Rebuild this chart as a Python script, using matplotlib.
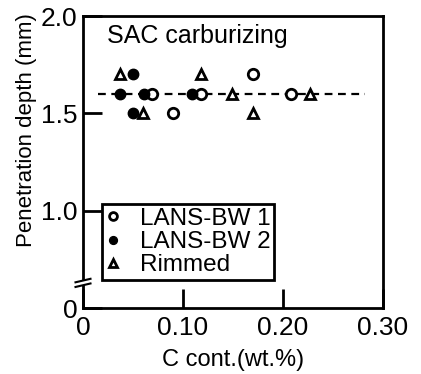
import matplotlib
matplotlib.use("Agg")
import matplotlib.pyplot as plt
from matplotlib import font_manager
from matplotlib.patches import Rectangle

def pick(fams):
    for f in fams:
        try:
            font_manager.findfont(f, fallback_to_default=False)
            return f
        except Exception:
            pass
    return "DejaVu Sans"

TXT = pick(["Liberation Sans", "DejaVu Sans"])
NUM = pick(["Liberation Sans Narrow", "Liberation Sans", "DejaVu Sans"])

# data
bw1_x = [0.069, 0.118, 0.170, 0.208, 0.090]
bw1_y = [1.6, 1.6, 1.7, 1.6, 1.5]
bw2_x = [0.037, 0.050, 0.061, 0.109, 0.050]
bw2_y = [1.6, 1.7, 1.6, 1.6, 1.5]
rim_x = [0.037, 0.118, 0.149, 0.227, 0.060, 0.170]
rim_y = [1.7, 1.7, 1.6, 1.6, 1.5, 1.5]
fit_x = [0.015, 0.282]
fit_y = [1.6, 1.6]
xticks = [0, 0.10, 0.20, 0.30]
xticklabels = ["0", "0.10", "0.20", "0.30"]
yticks = [0.5, 1.0, 1.5, 2.0]
yticklabels = ["0", "1.0", "1.5", "2.0"]

fig = plt.figure(figsize=(4.21, 3.74), dpi=100)
ax = fig.add_axes([83/421, 1-308/374, 300/421, 292/374])

ax.plot(fit_x, fit_y, ls=(0, (3.5, 2.5)), color="black", lw=1.6, zorder=1)
ms = 7.5
ax.plot(bw1_x, bw1_y, ls="none", marker="o", ms=ms, mfc="white", mec="black", mew=2, zorder=3, label="LANS-BW 1")
ax.plot(bw2_x, bw2_y, ls="none", marker="o", ms=ms, mfc="black", mec="black", mew=1, zorder=3, label="LANS-BW 2")
ax.plot(rim_x, rim_y, ls="none", marker="^", ms=ms, mfc="white", mec="black", mew=2, zorder=3, label="Rimmed")

ax.set_xlim(0, 0.30)
ax.set_ylim(0.5, 2.0)
ax.set_xticks(xticks)
ax.set_xticklabels(xticklabels, fontfamily=NUM, fontsize=19)
ax.set_yticks(yticks)
ax.set_yticklabels(yticklabels, fontfamily=NUM, fontsize=19)
ax.tick_params(direction="in", length=14, width=2, pad=4)
ax.tick_params(axis="x", pad=6)
for s in ax.spines.values():
    s.set_linewidth(2)

ax.text(0.08, 0.93, "SAC carburizing", transform=ax.transAxes, fontfamily=TXT,
        fontsize=18, va="center", ha="left")

ax.set_xlabel("C cont.(wt.%)", fontfamily=TXT, fontsize=17)
ax.xaxis.set_label_coords(0.5, -0.14)
ax.set_ylabel("Penetration depth (mm)", fontfamily=TXT, fontsize=16)
ax.yaxis.set_label_coords(-0.153, 0.61)

leg = ax.legend(loc="lower left", bbox_to_anchor=(0.063, 0.096), borderaxespad=0,
                fancybox=False, edgecolor="black", framealpha=1, handlelength=0.6,
                handletextpad=0.8, labelspacing=0.05, borderpad=0.15,
                prop={"family": TXT, "size": 17.5}, markerscale=0.75)
leg.get_frame().set_linewidth(2)

# axis break mark on left spine
yb = 0.086
ax.add_patch(Rectangle((-0.01, yb - 0.008), 0.02, 0.016, transform=ax.transAxes,
                       facecolor="white", edgecolor="none", clip_on=False, zorder=5))
for dy in (-0.008, 0.008):
    ax.plot([-0.025, 0.025], [yb + dy - 0.006, yb + dy + 0.006], transform=ax.transAxes,
            color="black", lw=1.5, clip_on=False, zorder=6)

fig.savefig("out.png", dpi=100)
